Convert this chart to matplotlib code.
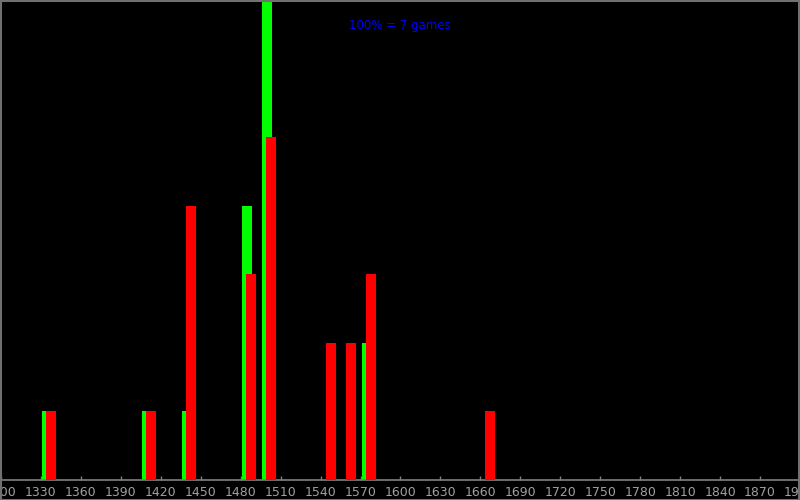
import matplotlib
matplotlib.use("Agg")
import matplotlib.pyplot as plt
from matplotlib.patches import Rectangle

# Data: rating bins (bin start) and game counts
bins = [1330, 1405, 1435, 1480, 1495, 1540, 1555, 1570, 1660]
green_counts = [1, 1, 1, 4, 7, 0, 0, 2, 0]
red_counts = [1, 1, 4, 3, 5, 2, 2, 3, 1]
tick_values = list(range(1300, 1901, 30))
note = "100% = 7 games"

fig = plt.figure(figsize=(8, 5), dpi=100, facecolor="black")
ax = fig.add_axes([0, 0.04, 1, 0.96])
ax.set_facecolor("black")

bar_w = 7.5
ax.bar([b + 0.75 for b in bins], green_counts, width=bar_w, align="edge",
       color="#00ff00", linewidth=0, zorder=2)
ax.bar([b + 3.75 for b in bins], red_counts, width=bar_w, align="edge",
       color="#ff0000", linewidth=0, zorder=3)

ax.set_xlim(1299.25, 1899.25)
ax.set_ylim(0, 7)
ax.set_xticks(tick_values)
ax.set_xticklabels([str(v) for v in tick_values])
ax.set_yticks([])
for s in ["top", "left", "right"]:
    ax.spines[s].set_visible(False)
ax.spines["bottom"].set_color("#808080")
ax.spines["bottom"].set_linewidth(1.2)
ax.tick_params(axis="x", direction="in", length=3, width=1, color="#808080",
               labelcolor="#a0a0a0", labelsize=9, pad=4.5)

fig.text(0.5, 0.948, note, color="#0000ff", ha="center", va="center", fontsize=8.5)

fig.patches.append(Rectangle((0.0008, 0.001), 0.9985, 0.998, transform=fig.transFigure,
                             fill=False, edgecolor="#707070", linewidth=1.5, zorder=10))

fig.savefig("out.png", dpi=100, facecolor="black")
